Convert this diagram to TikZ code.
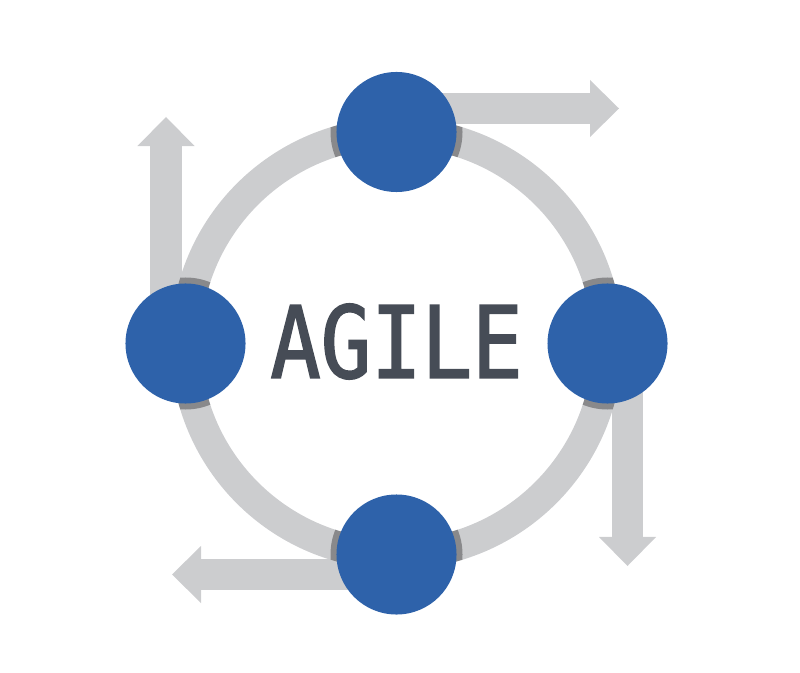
\documentclass[tikz,border=0pt]{standalone}
\usepackage{fontspec}
\newfontfamily\agilefont[FakeStretch=0.84, FakeBold=1.6]{DejaVu Sans Mono}
\usetikzlibrary{arrows.meta, backgrounds}
\definecolor{ringgray}{RGB}{204,205,207}
\definecolor{capgray}{RGB}{137,137,139}
\definecolor{phaseblue}{RGB}{46,98,170}
\definecolor{textslate}{RGB}{70,76,86}

\begin{document}
\begin{tikzpicture}[
        x=0.025cm, y=0.025cm,
        phase/.style={circle, fill=phaseblue, minimum size=3cm, inner sep=0pt},
        ring/.style={draw=ringgray, line width=0.75cm},
        flow/.style={draw=ringgray, fill=ringgray, line width=0.775cm, -{Triangle[length=0.725cm, width=1.425cm, line width=0pt]}}
    ]
        \useasboundingbox (0,0) rectangle (800,672);

        % Nodes
        \coordinate (hub) at (396.5,328.5);
        \node[phase] (phaseN) at (396.5,540) {};
        \node[phase] (phaseW) at (185.5,328.5) {};
        \node[phase] (phaseE) at (607.5,328.5) {};
        \node[phase] (phaseS) at (396.5,117.5) {};
        \node[text=textslate, font=\agilefont\fontsize{71}{71}\selectfont] (title) at (396.5,330.5) {AGILE};

        % Arrow ends
        \coordinate (outN) at (619,563.5);
        \coordinate (outW) at (166,555);
        \coordinate (outE) at (627.5,106);
        \coordinate (outS) at (172,97.5);

        \begin{pgfonlayer}{background}
            % Arrows
            \draw[flow] (phaseN.center |- outN) -- (outN);
            \draw[flow] (outW |- phaseW.center) -- (outW);
            \draw[flow] (outE |- phaseE.center) -- (outE);
            \draw[flow] (phaseS.center |- outS) -- (outS);

            % Ring and caps
            \draw[ring] (hub) circle (211);
            \foreach \p in {phaseN, phaseW, phaseE, phaseS} {
                \begin{scope}
                    \clip (\p.center) circle (66);
                    \draw[ring, draw=capgray] (hub) circle (211);
                \end{scope}
            }
        \end{pgfonlayer}
    \end{tikzpicture}
\end{document}
